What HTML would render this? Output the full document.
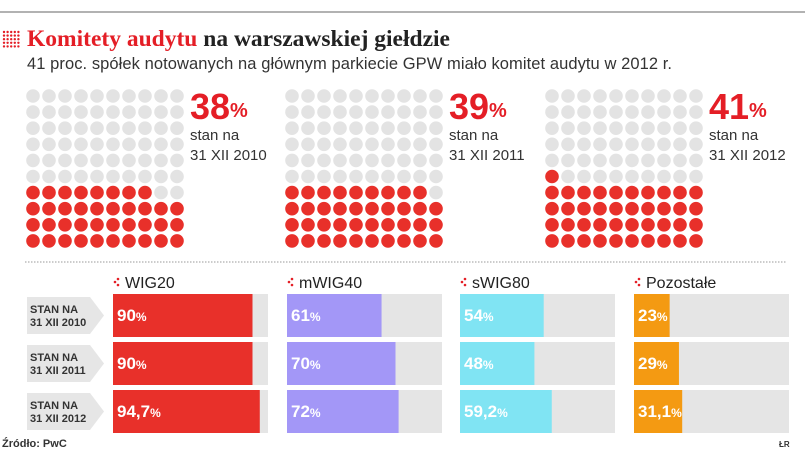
<!DOCTYPE html>
<html><head><meta charset="utf-8"><style>
body{margin:0;background:#fff;font-family:"Liberation Sans",sans-serif;}
svg{display:block}
</style></head><body>
<svg id="c" width="805" height="454">
<line x1="0" y1="12" x2="805" y2="12" stroke="#999" stroke-width="1.5"/>
<g id="ticon"></g>
<text x="27" y="46" font-family="Liberation Serif" font-weight="bold" font-size="23.5"><tspan fill="#e41e26">Komitety audytu</tspan><tspan fill="#222"> na warszawskiej giełdzie</tspan></text>
<text x="27" y="69" font-size="16.5" fill="#333" textLength="645">41 proc. spółek notowanych na głównym parkiecie GPW miało komitet audytu w 2012 r.</text>
<g id="dots"></g>
<line x1="25" y1="262" x2="787" y2="262" stroke="#999" stroke-dasharray="1.5 1.5"/>
<g id="bars"></g>
<text x="2" y="447" font-size="11" font-weight="bold" fill="#333">Źródło: PwC</text>
<text x="779" y="447" font-size="8" font-weight="bold" fill="#333">ŁR</text>
</svg>
<script>
const years=["2010","2011","2012"];
const shares=[38,39,41];
const indices=["WIG20","mWIG40","sWIG80","Pozostałe"];
const wig20=[90,90,94.7];
const mwig40=[61,70,72];
const swig80=[54,48,59.2];
const pozostale=[23,29,31.1];
const series=[wig20,mwig40,swig80,pozostale];
const colors=["#e8302a","#a397f7","#80e4f3","#f49a12"];
const NS="http://www.w3.org/2000/svg";
function mk(t,a,p){const e=document.createElementNS(NS,t);for(const k in a)e.setAttribute(k,a[k]);p.appendChild(e);return e;}
function fmt(v){return String(v).replace('.',',');}
const ti=document.getElementById('ticon');
for(let r=0;r<5;r++)for(let c=0;c<5;c++){const d=mk('circle',{cx:4+c*3.6,cy:32+r*3.6,r:1.2,fill:'#e41e26'},ti);

}
const dg=document.getElementById('dots');
const gx=[33,292,552];
shares.forEach((s,i)=>{
  const g=mk('g',{},dg);
  
  
  for(let r=0;r<10;r++)for(let c=0;c<10;c++){
    const idx=(9-r)*10+c;
    const d=mk('circle',{cx:gx[i]+c*16,cy:96+r*16.1,r:6.8,fill:idx<s?'#e8302a':'#e3e3e3'},g);
    
    
  }
  const tx=gx[i]+157;
  const p=mk('text',{x:tx,y:119,'font-size':36,'font-weight':'bold',fill:'#e41e26'},g);
  p.innerHTML=s+'<tspan font-size="20" dy="-2">%</tspan>';
  
  
  const a=mk('text',{x:tx,y:140,'font-size':15,fill:'#333'},g);a.textContent='stan na';
  
  
  const b=mk('text',{x:tx,y:160,'font-size':15,fill:'#333'},g);b.textContent='31 XII '+years[i];
  
  
});
const bg=document.getElementById('bars');
const px=[113,287,460,634],pw=155,ry=[294,342,390],rh=43;
years.forEach((y,j)=>{
  const g=mk('g',{},bg);
  
  
  const t=ry[j];
  mk('path',{d:`M27 ${t+3}H90L104 ${t+rh/2}L90 ${t+rh-3}H27Z`,fill:'#e6e6e6'},g);
  const l1=mk('text',{x:30,y:t+19,'font-size':11,'font-weight':'bold',fill:'#333'},g);l1.textContent='STAN NA';
  const l2=mk('text',{x:30,y:t+32,'font-size':11,'font-weight':'bold',fill:'#333'},g);l2.textContent='31 XII '+y;
});
indices.forEach((n,i)=>{
  const g=mk('g',{},bg);
  
  
  const x0=px[i];
  [[0,0],[3,-3],[3,3]].forEach(q=>mk('circle',{cx:x0+2+q[0],cy:282+q[1],r:1.3,fill:'#e41e26'},g));
  const h=mk('text',{x:x0+12,y:288,'font-size':16,fill:'#222'},g);h.textContent=n;
  
  
  series[i].forEach((v,j)=>{
    const bgr=mk('rect',{x:x0,y:ry[j],width:pw,height:rh,fill:'#e5e5e5'},g);
    
    
    const b=mk('rect',{x:x0,y:ry[j],width:pw*v/100,height:rh,fill:colors[i]},g);
    
    
    const tt=mk('text',{x:x0+4,y:ry[j]+27,'font-size':17,'font-weight':'bold',fill:'#fff'},g);
    tt.innerHTML=fmt(v)+'<tspan font-size="12">%</tspan>';
    
    
  });
});
</script>
</body></html>
